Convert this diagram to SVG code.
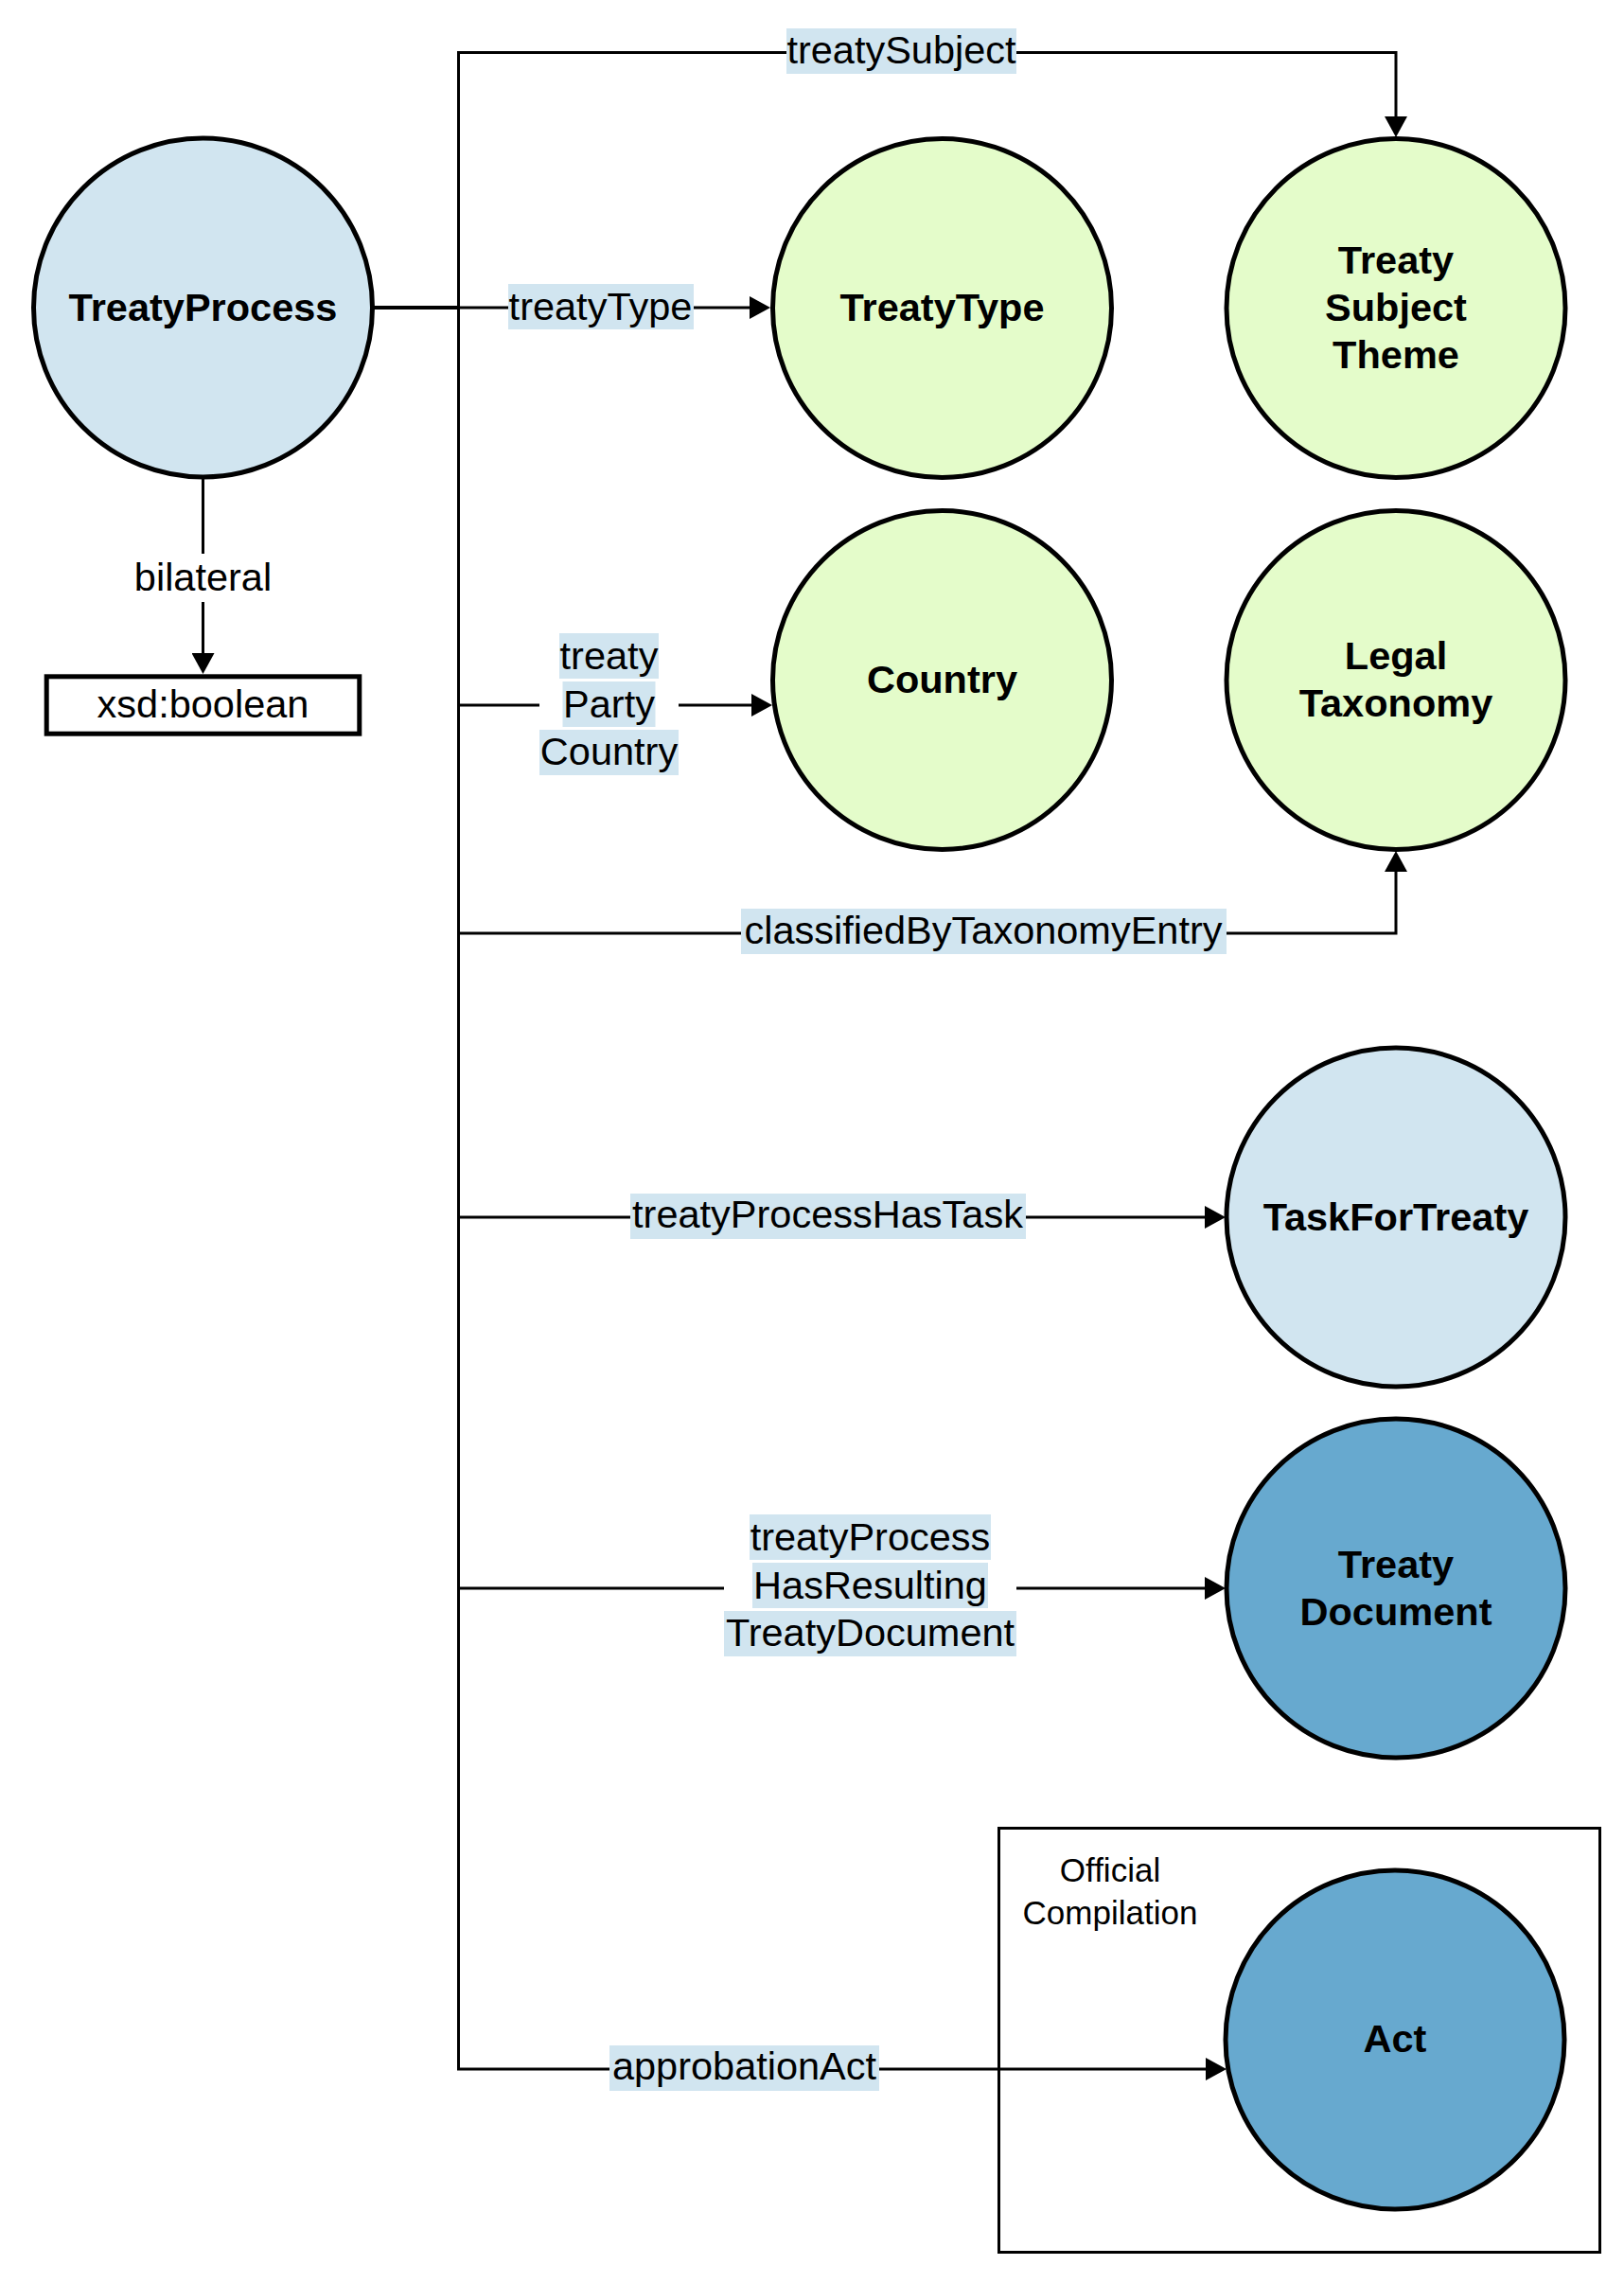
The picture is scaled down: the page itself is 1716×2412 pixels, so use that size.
<svg xmlns="http://www.w3.org/2000/svg" width="1716" height="2412" viewBox="0 0 1716 2412">
  <style>
    .node { stroke: #000; stroke-width: 5; }
    .lb { fill: #D1E5F0; }
    .green { fill: #E4FCCA; }
    .light { fill: #D1E5F0; }
    .dark { fill: #67A9CF; }
    .edge { fill: none; stroke: #000; stroke-width: 3; }
    text { font-family: "Liberation Sans", Arial, Helvetica, sans-serif; fill: #000; text-anchor: middle; }
    .nt { font-size: 41.5px; font-weight: bold; }
    .et { font-size: 41.5px; }
    .gt { font-size: 35px; }
  </style>
  <defs>
    <marker id="arr" markerUnits="userSpaceOnUse" markerWidth="22" markerHeight="24" refX="0" refY="12" orient="auto" viewBox="0 0 22 24">
      <path d="M0,0 L22,12 L0,24 Z" fill="#000"/>
    </marker>
  </defs>
  <rect width="1716" height="2412" fill="#fff"/>

  <g id="group-official-compilation">
    <rect x="1055.5" y="1931.5" width="635" height="448" fill="none" stroke="#000" stroke-width="3"/>
    <text class="gt" x="1173" y="1988">Official</text>
    <text class="gt" x="1173" y="2033">Compilation</text>
  </g>

  <g id="connectors">
    <path class="edge" d="M395,325 H484.5 V55.5 H1475 V123" marker-end="url(#arr)"/>
    <path class="edge" d="M395,325 H792" marker-end="url(#arr)"/>
    <path class="edge" d="M395,325 H484.5 V745 H794" marker-end="url(#arr)"/>
    <path class="edge" d="M395,325 H484.5 V986 H1475 V921" marker-end="url(#arr)"/>
    <path class="edge" d="M395,325 H484.5 V1286 H1273" marker-end="url(#arr)"/>
    <path class="edge" d="M395,325 H484.5 V1678 H1273" marker-end="url(#arr)"/>
    <path class="edge" d="M395,325 H484.5 V2186 H1274" marker-end="url(#arr)"/>
    <path class="edge" d="M214.5,506 V690" marker-end="url(#arr)"/>

    <g id="label-treatySubject">
      <rect class="lb" x="831" y="30" width="243" height="48"/>
      <text class="et" x="952.5" y="67">treatySubject</text>
    </g>
    <g id="label-treatyType">
      <rect class="lb" x="537" y="300" width="196" height="48"/>
      <text class="et" x="634.5" y="338">treatyType</text>
    </g>
    <g id="label-treatyPartyCountry">
      <rect x="570" y="669" width="147" height="150" fill="#fff"/>
      <rect class="lb" x="591" y="669" width="105" height="48"/>
      <rect class="lb" x="594.5" y="720" width="98" height="48"/>
      <rect class="lb" x="570" y="771" width="147" height="48"/>
      <text class="et" x="643.5" y="707">treaty</text>
      <text class="et" x="643.5" y="758">Party</text>
      <text class="et" x="643.5" y="808">Country</text>
    </g>
    <g id="label-classifiedByTaxonomyEntry">
      <rect class="lb" x="783" y="960" width="513" height="48"/>
      <text class="et" x="1039" y="997">classifiedByTaxonomyEntry</text>
    </g>
    <g id="label-treatyProcessHasTask">
      <rect class="lb" x="666" y="1261" width="418" height="48"/>
      <text class="et" x="874.5" y="1297">treatyProcessHasTask</text>
    </g>
    <g id="label-treatyProcessHasResultingTreatyDocument">
      <rect x="765" y="1600" width="309" height="150" fill="#fff"/>
      <rect class="lb" x="792" y="1600" width="255" height="48"/>
      <rect class="lb" x="795" y="1651" width="249" height="48"/>
      <rect class="lb" x="765" y="1702" width="309" height="48"/>
      <text class="et" x="919.5" y="1638">treatyProcess</text>
      <text class="et" x="919.5" y="1689">HasResulting</text>
      <text class="et" x="919.5" y="1739">TreatyDocument</text>
    </g>
    <g id="label-approbationAct">
      <rect class="lb" x="644" y="2161" width="285" height="48"/>
      <text class="et" x="786.5" y="2197">approbationAct</text>
    </g>
    <g id="label-bilateral">
      <rect x="140" y="585" width="149" height="51" fill="#fff"/>
      <text class="et" x="214.5" y="624">bilateral</text>
    </g>
  </g>

  <g id="node-TreatyProcess">
    <circle class="node light" cx="214.5" cy="325" r="179"/>
    <text class="nt" x="214.5" y="338.5">TreatyProcess</text>
  </g>
  <g id="node-xsd-boolean">
    <rect x="49.2" y="714.8" width="330.6" height="60.4" fill="#fff" stroke="#000" stroke-width="5"/>
    <text class="et" x="214.5" y="758">xsd:boolean</text>
  </g>
  <g id="node-TreatyType">
    <circle class="node green" cx="995.5" cy="325.5" r="179"/>
    <text class="nt" x="995.5" y="339">TreatyType</text>
  </g>
  <g id="node-TreatySubjectTheme">
    <circle class="node green" cx="1475" cy="325.5" r="179"/>
    <text class="nt" x="1475" y="289">Treaty</text>
    <text class="nt" x="1475" y="339">Subject</text>
    <text class="nt" x="1475" y="389">Theme</text>
  </g>
  <g id="node-Country">
    <circle class="node green" cx="995.5" cy="718.5" r="179"/>
    <text class="nt" x="995.5" y="732">Country</text>
  </g>
  <g id="node-LegalTaxonomy">
    <circle class="node green" cx="1475" cy="718.5" r="179"/>
    <text class="nt" x="1475" y="707">Legal</text>
    <text class="nt" x="1475" y="757">Taxonomy</text>
  </g>
  <g id="node-TaskForTreaty">
    <circle class="node light" cx="1475" cy="1286" r="179"/>
    <text class="nt" x="1475" y="1300">TaskForTreaty</text>
  </g>
  <g id="node-TreatyDocument">
    <circle class="node dark" cx="1475" cy="1678" r="179"/>
    <text class="nt" x="1475" y="1667">Treaty</text>
    <text class="nt" x="1475" y="1717">Document</text>
  </g>
  <g id="node-Act">
    <circle class="node dark" cx="1474" cy="2155" r="179"/>
    <text class="nt" x="1474" y="2168">Act</text>
  </g>
</svg>
